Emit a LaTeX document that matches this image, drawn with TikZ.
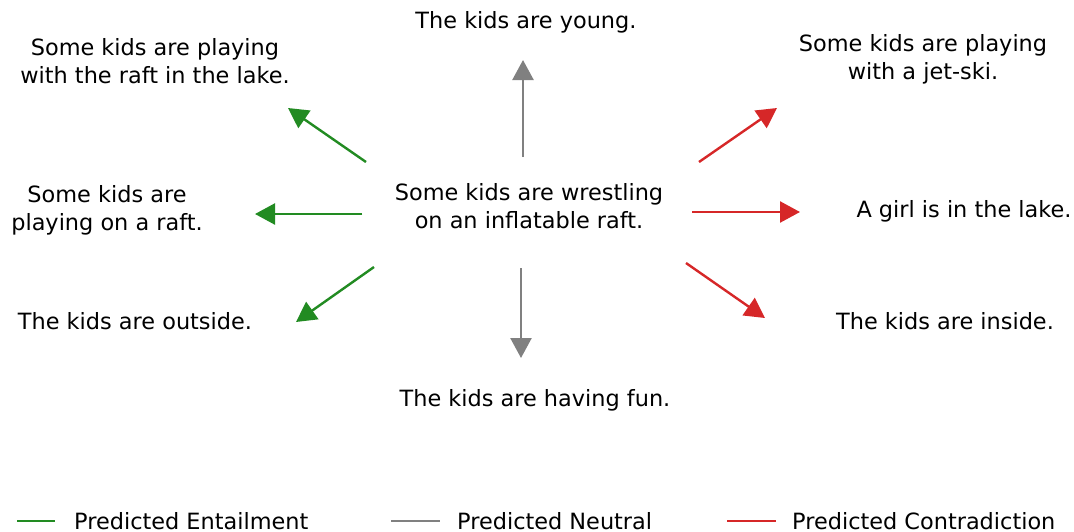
\documentclass[tikz,border=0pt]{standalone}
\usepackage{fontspec}
\setmainfont{DejaVu Sans}
\usetikzlibrary{arrows.meta}
\definecolor{entc}{RGB}{34,139,34}
\definecolor{neuc}{RGB}{128,128,128}
\definecolor{conc}{RGB}{214,39,40}
\tikzset{
  txt/.style={align=center, inner sep=0pt, font=\fontsize{22.4pt}{28pt}\selectfont},
  lgd/.style={anchor=base west, inner sep=0pt, font=\fontsize{22.4pt}{28pt}\selectfont},
  arr/.style={line width=2.4pt, -{Triangle[length=20pt,width=21pt]}},
  ent/.style={arr, draw=entc, fill=entc},
  neu/.style={arr, draw=neuc, fill=neuc},
  con/.style={arr, draw=conc, fill=conc},
  lline/.style={line width=2.4pt}
}
\begin{document}
\begin{tikzpicture}[x=1pt,y=-1pt]
\useasboundingbox (0,0) rectangle (1074,531);
% texts
\node[txt] (young) at (526,22) {The kids are young.};
\node[txt] (raftlake) at (155,61) {Some kids are playing\\with the raft in the lake.};
\node[txt] (jetski) at (923,59) {Some kids are playing\\with a jet-ski.};
\node[txt] (prem) at (529,206) {Some kids are wrestling\\on an inflatable raft.};
\node[txt] (onraft) at (107,210) {Some kids are\\playing on a raft.};
\node[txt] (girl) at (964,211) {A girl is in the lake.};
\node[txt] (outside) at (135,321) {The kids are outside.};
\node[txt] (inside) at (945,321) {The kids are inside.};
\node[txt] (fun) at (535,400) {The kids are having fun.};
% arrow endpoints
\coordinate (s1) at (523,157); \coordinate (t1) at (523,60);
\coordinate (s2) at (521,268); \coordinate (t2) at (521,358);
\coordinate (s3) at (366,162); \coordinate (t3) at (288,108);
\coordinate (s4) at (362,214); \coordinate (t4) at (255,214);
\coordinate (s5) at (374,267); \coordinate (t5) at (296,322);
\coordinate (s6) at (699,162); \coordinate (t6) at (777,108);
\coordinate (s7) at (692,212); \coordinate (t7) at (800,212);
\coordinate (s8) at (686,263); \coordinate (t8) at (765,318);
\draw[neu] (s1) -- (t1);
\draw[neu] (s2) -- (t2);
\draw[ent] (s3) -- (t3);
\draw[ent] (s4) -- (t4);
\draw[ent] (s5) -- (t5);
\draw[con] (s6) -- (t6);
\draw[con] (s7) -- (t7);
\draw[con] (s8) -- (t8);
% legend
\coordinate (la1) at (17,521); \coordinate (la2) at (55,521);
\coordinate (lb1) at (391,521); \coordinate (lb2) at (440,521);
\coordinate (lc1) at (727,521); \coordinate (lc2) at (776,521);
\draw[lline, entc] (la1) -- (la2);
\draw[lline, neuc] (lb1) -- (lb2);
\draw[lline, conc] (lc1) -- (lc2);
\node[lgd] (lent) at (74,529) {Predicted Entailment};
\node[lgd] (lneu) at (457,529) {Predicted Neutral};
\node[lgd] (lcon) at (792,529) {Predicted Contradiction};
\end{tikzpicture}
\end{document}
